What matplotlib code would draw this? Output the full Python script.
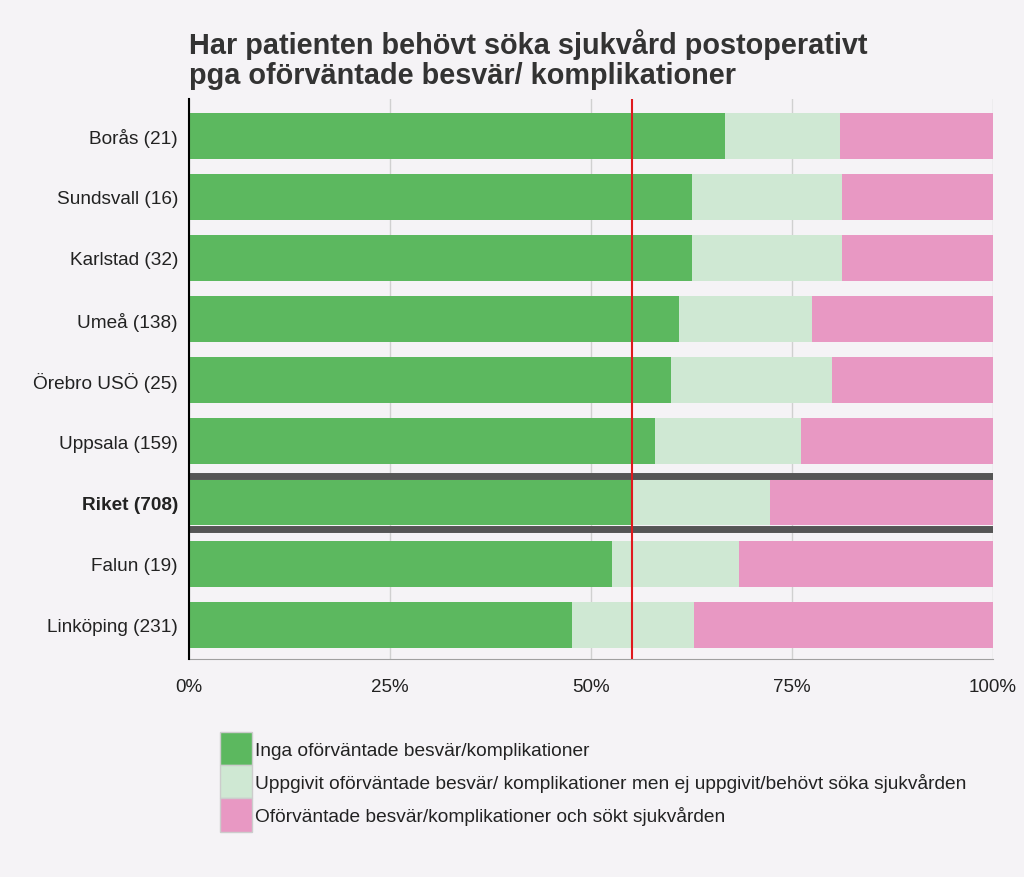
import numpy as np
import matplotlib.pyplot as plt
from matplotlib.patches import Patch

plt.rcParams["font.family"] = ["Liberation Sans", "DejaVu Sans"]

# share of patients (%) per clinic, cumulative ends
clinics = ["Borås (21)", "Sundsvall (16)", "Karlstad (32)", "Umeå (138)",
           "Örebro USÖ (25)", "Uppsala (159)", "Riket (708)", "Falun (19)",
           "Linköping (231)"]
no_compl = [66.7, 62.5, 62.5, 60.9, 60.0, 57.9, 55.1, 52.6, 47.6]
compl_no_care = [14.3, 18.75, 18.75, 16.6, 20.0, 18.2, 17.2, 15.8, 15.2]
compl_care = [19.0, 18.75, 18.75, 22.5, 20.0, 23.9, 27.7, 31.6, 37.2]
riket_value = 55.1

labels = ["Inga oförväntade besvär/komplikationer",
          "Uppgivit oförväntade besvär/ komplikationer men ej uppgivit/behövt söka sjukvården",
          "Oförväntade besvär/komplikationer och sökt sjukvården"]
colors = ["#5cb85f", "#cfe8d3", "#e898c3"]
bg = "#f5f3f6"

fig = plt.figure(figsize=(10.24, 8.78), dpi=100, facecolor=bg)
ax = fig.add_axes([189 / 1024, 1 - 660 / 878, 804 / 1024, 560 / 878], facecolor=bg)

y = np.arange(len(clinics))
left = np.zeros(len(clinics))
for vals, c in zip([no_compl, compl_no_care, compl_care], colors):
    ax.barh(y, vals, left=left, height=0.75, color=c, zorder=2)
    left += np.array(vals)

ax.set_ylim(len(clinics) - 0.44, -0.6)
ax.set_xlim(0, 100)

# separators around the national row
ri = clinics.index("Riket (708)")
for off in (-0.435, 0.435):
    ax.axhline(ri + off, color="#555555", lw=5, zorder=3)

ax.axvline(riket_value, color="#e0191e", lw=1.5, zorder=4)

ax.set_xticks([0, 25, 50, 75, 100])
ax.set_xticklabels(["0%", "25%", "50%", "75%", "100%"], fontsize=13.5, color="#222222")
ax.set_yticks(y)
ax.set_yticklabels(clinics, fontsize=13.7, color="#222222")
for t in ax.get_yticklabels():
    if t.get_text().startswith("Riket"):
        t.set_fontweight("bold")
ax.tick_params(axis="both", length=0)
ax.tick_params(axis="y", pad=8)
ax.tick_params(axis="x", pad=14)
ax.grid(axis="x", color="#d0d0d0", lw=1, zorder=0)
ax.set_axisbelow(True)

for s in ["top", "right"]:
    ax.spines[s].set_visible(False)
ax.spines["left"].set_color("black")
ax.spines["left"].set_linewidth(1.5)
ax.spines["left"].set_zorder(5)
ax.spines["bottom"].set_color("#a0a0a0")

fig.text(189 / 1024, 1 - 29 / 878,
         "Har patienten behövt söka sjukvård postoperativt\npga oförväntade besvär/ komplikationer",
         fontsize=20.8, fontweight="bold", color="#333333", ha="left", va="top",
         linespacing=1.1)

handles = [Patch(facecolor=c, edgecolor="#cccccc", lw=1) for c in colors]
fig.legend(handles, labels, loc="upper left", bbox_to_anchor=(220 / 1024, 1 - 733 / 878),
           frameon=False, fontsize=13.8, handlelength=1.68, handleheight=2.29,
           labelspacing=0, handletextpad=0.15, borderpad=0, borderaxespad=0,
           labelcolor="#222222")

fig.savefig("out.png", dpi=100, facecolor=bg)
